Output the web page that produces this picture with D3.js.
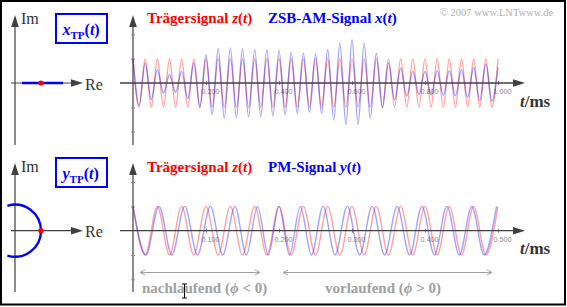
<!DOCTYPE html>
<html>
<head>
<meta charset="utf-8">
<script src="https://cdn.jsdelivr.net/npm/d3@7"></script>
<style>
  body { margin: 0; background: #fff; }
  svg { display: block; }
</style>
</head>
<body>
<svg id="chart" width="567" height="307"></svg>
<script>
// carrier frequency: 30 periods per ms
const carrierKHz = 30;

// ZSB-AM envelope at every carrier extremum (t = k/60 ms, k = 0..60)
const amEnvelope = [
  1.00, 0.92, 0.82, 0.68, 0.55, 0.42, 0.34, 0.38, 0.48, 0.64,
  0.82, 1.00, 1.16, 1.30, 1.41, 1.44, 1.44, 1.42, 1.41, 1.39,
  1.37, 1.37, 1.37, 1.35, 1.33, 1.30, 1.27, 1.25, 1.23, 1.20,
  1.19, 1.25, 1.37, 1.52, 1.64, 1.72, 1.78, 1.72, 1.64, 1.45,
  1.23, 1.02, 0.82, 0.70, 0.62, 0.54, 0.48, 0.47, 0.48, 0.50,
  0.51, 0.51, 0.51, 0.53, 0.55, 0.59, 0.64, 0.72, 0.78, 0.75,
  0.64
];

// PM phase (degrees) at every carrier extremum (t = k/60 ms, k = 0..30)
const pmPhaseDeg = [
  0, -12, -25, -35, -45, -55, -65, -68, -68, -58,
  -42, -22, 0, 25, 45, 60, 68, 70, 70, 66,
  62, 57, 52, 48, 45, 40, 36, 32, 28, 26,
  22
];

const tTicksTop = [0.2, 0.4, 0.6, 0.8, 1.0];
const tTicksBottom = [0.1, 0.2, 0.3, 0.4, 0.5];
const yTickValues = [-2, -1, 1, 2];
const tpLineRange = [0.27, 1.85];   // x_TP(t) range on the real axis
const tpArcDeg = [-107, 107];       // y_TP(t) phase range on the unit circle

const svg = d3.select("#chart");
const serif = "'Liberation Serif', 'Times New Roman', serif";
const axisCol = "#404040";

// frame
svg.append("rect")
    .attr("x", 1).attr("y", 1)
    .attr("width", 564).attr("height", 303.5)
    .attr("fill", "none")
    .attr("stroke", "#000")
    .attr("stroke-width", 2);

const arrowUp = (x, y) => `M${x},${y} L${x - 3.8},${y + 12} L${x + 3.8},${y + 12} Z`;
const arrowRight = (x, y) => `M${x},${y} L${x - 12},${y - 3.8} L${x - 12},${y + 3.8} Z`;

function richText(g, x, y, parts, size, color, weight) {
    const t = g.append("text")
        .attr("x", x).attr("y", y)
        .attr("font-family", serif)
        .attr("font-size", size)
        .attr("font-weight", weight)
        .attr("fill", color);
    parts.forEach(p => {
        const s = t.append("tspan").text(p.s);
        if (p.it) s.attr("font-style", "italic");
        if (p.fs) s.attr("font-size", p.fs);
        if (p.dy) s.attr("dy", p.dy);
    });
    return t;
}

// ---------- left: complex plane ----------
function complexPlane(cy, imTop, imBottom, tpLetter, boxTop) {
    const g = svg.append("g");
    const cx = 15, unit = 26;
    g.append("line").attr("x1", cx).attr("x2", cx).attr("y1", imBottom).attr("y2", imTop + 8)
        .attr("stroke", axisCol).attr("stroke-width", 1.2);
    g.append("path").attr("d", arrowUp(cx, imTop)).attr("fill", axisCol);
    g.append("line").attr("x1", 11).attr("x2", 75).attr("y1", cy).attr("y2", cy)
        .attr("stroke", axisCol).attr("stroke-width", 1.2);
    g.append("path").attr("d", arrowRight(83, cy)).attr("fill", axisCol);
    g.append("text").attr("x", 21).attr("y", imTop + 9).text("Im")
        .attr("font-family", serif).attr("font-size", 16).attr("fill", "#333");
    g.append("text").attr("x", 85).attr("y", cy + 6.5).text("Re")
        .attr("font-family", serif).attr("font-size", 16).attr("fill", "#333");

    g.append("rect").attr("x", 56).attr("y", boxTop).attr("width", 51).attr("height", 29)
        .attr("fill", "#fff").attr("stroke", "#0000ff").attr("stroke-width", 2);
    richText(g, 62.5, boxTop + 21, [
        { s: tpLetter, it: true },
        { s: "TP", fs: 11, dy: 4 },
        { s: "(", dy: -4 },
        { s: "t", it: true },
        { s: ")" }
    ], 16, "#0000ff", "bold");
    return { g, cx, cy, unit };
}

const planeTop = complexPlane(83, 15, 145, "x", 14);
planeTop.g.append("line")
    .attr("x1", planeTop.cx + tpLineRange[0] * planeTop.unit)
    .attr("x2", planeTop.cx + tpLineRange[1] * planeTop.unit)
    .attr("y1", planeTop.cy).attr("y2", planeTop.cy)
    .attr("stroke", "#0000ff").attr("stroke-width", 2.6);
planeTop.g.append("circle").attr("cx", planeTop.cx + planeTop.unit).attr("cy", planeTop.cy)
    .attr("r", 2.6).attr("fill", "#ff0000");

const planeBot = complexPlane(230.7, 163, 292, "y", 158);
const arc = d3.arc()
    .innerRadius(planeBot.unit).outerRadius(planeBot.unit)
    .startAngle((90 - tpArcDeg[1]) * Math.PI / 180)
    .endAngle((90 - tpArcDeg[0]) * Math.PI / 180);
planeBot.g.append("path")
    .attr("d", arc())
    .attr("transform", `translate(${planeBot.cx},${planeBot.cy})`)
    .attr("fill", "none").attr("stroke", "#0000ff").attr("stroke-width", 2.4);
planeBot.g.append("circle").attr("cx", planeBot.cx + planeBot.unit).attr("cy", planeBot.cy)
    .attr("r", 2.6).attr("fill", "#ff0000");

// ---------- right: time signals ----------
function timePanel(o) {
    const g = svg.append("g");
    const x = d3.scaleLinear().domain([0, o.tMax]).range([133, 498]);
    const y = d3.scaleLinear().domain([-1, 1]).range([o.y0 + 24.3, o.y0 - 24.3]);

    // y axis
    g.append("line").attr("x1", 133).attr("x2", 133).attr("y1", o.yBottom).attr("y2", o.yTop + 8)
        .attr("stroke", axisCol).attr("stroke-width", 1.2);
    g.append("path").attr("d", arrowUp(133, o.yTop)).attr("fill", axisCol);
    const ya = g.append("g").attr("transform", "translate(135,0)")
        .call(d3.axisLeft(y).tickValues(yTickValues).tickSize(4).tickFormat(""));
    ya.select(".domain").remove();
    ya.selectAll(".tick line").attr("stroke", "#888");

    // x axis
    const xa = g.append("g").attr("transform", `translate(0,${o.y0 + 2})`)
        .call(d3.axisBottom(x).tickValues(o.ticks).tickSize(4).tickFormat(d3.format(".3f")));
    xa.select(".domain").remove();
    xa.selectAll(".tick line").attr("stroke", "#888").attr("y1", -4).attr("y2", 0);
    xa.selectAll(".tick text")
        .attr("x", 4).attr("y", 9).attr("dy", 0)
        .attr("font-family", "'Liberation Sans', Arial, sans-serif")
        .attr("font-size", 7.2).attr("fill", "#8a8a8a");

    const line = d3.line().x(d => x(d.t)).y(d => y(d.v)).curve(d3.curveMonotoneX);
    g.append("path").datum(o.red).attr("d", line)
        .attr("fill", "none").attr("stroke", "#ff0000").attr("stroke-opacity", 0.36).attr("stroke-width", 1.4);
    g.append("path").datum(o.blue).attr("d", line)
        .attr("fill", "none").attr("stroke", "#0000ff").attr("stroke-opacity", 0.36).attr("stroke-width", 1.4);

    g.append("line").attr("x1", 120).attr("x2", 515).attr("y1", o.y0).attr("y2", o.y0)
        .attr("stroke", axisCol).attr("stroke-width", 1.3);
    g.append("path").attr("d", arrowRight(525, o.y0)).attr("fill", axisCol);

    richText(g, 520, o.y0 + 23.5, [{ s: "t", it: true }, { s: "/ms" }], 17, "#333", "bold");

    richText(g, 147, o.titleY, [
        { s: "Trägersignal " }, { s: "z", it: true }, { s: "(" }, { s: "t", it: true }, { s: ")" }
    ], 15, "#ff0000", "bold");
    richText(g, 268, o.titleY, o.blueTitle, 15, "#0000ff", "bold");
    return { g, x, y };
}

const halfPeriod = 1 / (2 * carrierKHz);

timePanel({
    y0: 83, yTop: 15, yBottom: 145, tMax: 1, ticks: tTicksTop, titleY: 23,
    red: amEnvelope.map((a, k) => ({ t: k * halfPeriod, v: k % 2 ? -1 : 1 })),
    blue: amEnvelope.map((a, k) => ({ t: k * halfPeriod, v: k % 2 ? -a : a })),
    blueTitle: [{ s: "ZSB-AM-Signal " }, { s: "x", it: true }, { s: "(" }, { s: "t", it: true }, { s: ")" }]
});

timePanel({
    y0: 230.7, yTop: 163, yBottom: 292, tMax: 0.5, ticks: tTicksBottom, titleY: 171.5,
    red: pmPhaseDeg.map((p, k) => ({ t: k * halfPeriod, v: k % 2 ? -1 : 1 })),
    blue: pmPhaseDeg.map((p, k) => ({ t: k * halfPeriod - p / 360 / carrierKHz, v: k % 2 ? -1 : 1 })),
    blueTitle: [{ s: "PM-Signal " }, { s: "y", it: true }, { s: "(" }, { s: "t", it: true }, { s: ")" }]
});

// copyright
svg.append("text").attr("x", 440).attr("y", 16)
    .attr("font-family", serif).attr("font-size", 10.5).attr("fill", "#b0b0b0")
    .text("© 2007 www.LNTwww.de");

// lagging / leading annotations
const annCol = "#a0a0a0";
function spanArrow(x1, x2, yy) {
    const g = svg.append("g").attr("stroke", annCol).attr("fill", "none").attr("stroke-width", 1);
    g.append("line").attr("x1", x1).attr("x2", x2).attr("y1", yy).attr("y2", yy);
    g.append("path").attr("d", `M${x1 + 5},${yy - 2.5} L${x1},${yy} L${x1 + 5},${yy + 2.5}`);
    g.append("path").attr("d", `M${x2 - 5},${yy - 2.5} L${x2},${yy} L${x2 - 5},${yy + 2.5}`);
}
spanArrow(140, 260, 272.5);
spanArrow(283, 492, 272.5);
richText(svg, 142, 293, [
    { s: "nachlaufend (" }, { s: "ϕ", it: true }, { s: " < 0)" }
], 15, annCol, "bold");
richText(svg, 325, 293, [
    { s: "vorlaufend (" }, { s: "ϕ", it: true }, { s: " > 0)" }
], 15, annCol, "bold");

// mouse cursor (I-beam) seen in the screenshot
svg.append("path")
    .attr("d", "M182,284 L187,284 M184.5,284 L184.5,298 M182,298 L187,298")
    .attr("stroke", "#000").attr("stroke-width", 1).attr("fill", "none");
</script>
</body>
</html>
